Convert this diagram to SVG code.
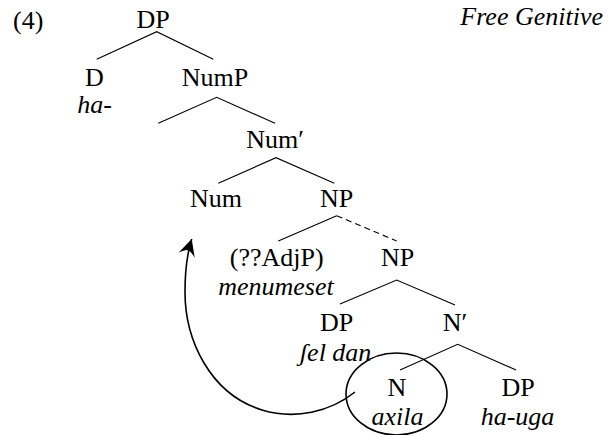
<svg xmlns="http://www.w3.org/2000/svg" width="608" height="435" viewBox="0 0 608 435">
<style>
.c{text-anchor:middle}
.i{font-style:italic}
.e{stroke:#000;stroke-width:1.1;fill:none}
.d{stroke-dasharray:6,4}
.a{stroke:#000;stroke-width:1.6;fill:none}
</style>
<defs>
<marker id="ah" markerUnits="userSpaceOnUse" viewBox="-18 -10 19 20" markerWidth="19" markerHeight="20" refX="0" refY="0" orient="auto">
<path d="M0,0 L-17,-8.5 Q-11,-2 -12,0 Q-11,2 -17,8.5 Z" fill="#000"/>
</marker>
</defs>
<g id="connectors">
<polyline class="e" points="96.7,59.3 156.7,31.7 213.3,59.3"/>
<polyline class="e" points="158.3,123.3 216.7,97.3 275,123.3"/>
<polyline class="e" points="218.3,183.3 276,157.7 334.3,183.3"/>
<line class="e" x1="278.3" y1="241" x2="336.7" y2="215.7"/>
<line class="e d" x1="336.7" y1="215.7" x2="396.7" y2="241"/>
<polyline class="e" points="340,304 396.7,280 455,305"/>
<polyline class="e" points="400,370 457.7,344.3 516,370"/>
<path class="a" d="M355,392 C330,412 295,420 262,410 C210,394 185,340 185,292 C185,268 187,254 191.7,239" marker-end="url(#ah)"/>
</g>
<g font-family="Liberation Serif, DejaVu Serif, serif" font-size="26" fill="#000">
<text x="13" y="29">(4)</text>
<text x="603" y="25" class="i" text-anchor="end">Free Genitive</text>
<g id="n-dp"><text class="c" x="153" y="28">DP</text></g>
<g id="n-d"><text class="c" x="94.5" y="86">D</text><text class="c i" x="94.5" y="113">ha-</text></g>
<g id="n-nump"><text class="c" x="215" y="86">NumP</text></g>
<g id="n-numbar"><text class="c" x="275" y="148">Num′</text></g>
<g id="n-num"><text class="c" x="216" y="207">Num</text></g>
<g id="n-np1"><text class="c" x="336.7" y="207">NP</text></g>
<g id="n-adjp"><text class="c" x="276.7" y="266">(??AdjP)</text><text class="c i" x="276" y="295">menumeset</text></g>
<g id="n-np2"><text class="c" x="397.5" y="266">NP</text></g>
<g id="n-dp2"><text class="c" x="336.7" y="331">DP</text><text class="c i" x="335.5" y="361">ʃel dan</text></g>
<g id="n-nbar"><text class="c" x="455" y="331">N′</text></g>
<g id="n-n"><ellipse class="a" cx="396.5" cy="394" rx="50.5" ry="41"/><text class="c" x="397" y="396">N</text><text class="c i" x="397.5" y="425">axila</text></g>
<g id="n-dp3"><text class="c" x="518" y="396">DP</text><text class="c i" x="517.5" y="425">ha-uga</text></g>
</g>
</svg>
